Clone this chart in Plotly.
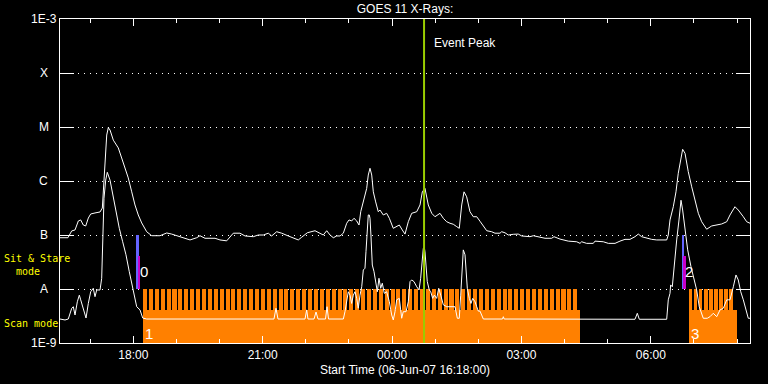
import math
import plotly.graph_objects as go
import pandas as pd

# ---------------- data ----------------
START = "2007-06-06 16:18:00"
END = "2007-06-07 08:18:00"
EVENT_PEAK = "2007-06-07 00:44:30"

# GOES 11 long channel (1-8 A): minutes after start, flux W/m^2
long_min = [0, 11, 16.3, 20.9, 25.5, 28.8, 32.4, 35.8, 39.4, 42.7, 48.7, 55.7, 58.9, 61.2, 62.6, 65.0, 67.2,
            69.6, 74.2, 81.1, 85.8, 90.4, 95.0, 99.8, 104.3, 108.9, 113.7, 120.6, 127.6, 139.1, 148.5, 155.4,
            167.0, 180.9, 190.2, 194.8, 201.7, 215.7, 222.6, 231.9, 241.1, 250.4, 257.4, 268.9, 275.9, 282.9,
            289.8, 294.5, 301.5, 308.4, 317.6, 324.6, 331.5, 336.3, 344.1, 354.8, 361.7, 366.3, 371.1, 375.7,
            380.3, 385.0, 389.6, 394.2, 398.9, 402.1, 405.8, 409.0, 412.8, 416.0, 418.4, 420.6, 424.3, 426.7,
            428.9, 431.3, 433.7, 435.9, 439.2, 442.8, 445.2, 449.8, 454.5, 458.2, 463.7, 468.4, 472.1, 476.2,
            480.0, 484.6, 489.3, 496.3, 500.9, 504.1, 507.8, 512.4, 517.2, 521.7, 528.7, 533.3, 538.0, 542.6,
            547.2, 551.9, 555.5, 558.9, 562.1, 565.8, 570.4, 575.0, 579.8, 584.3, 589.0, 593.7, 600.6, 605.2,
            612.2, 614.5, 619.1, 623.7, 630.7, 637.6, 642.4, 653.9, 658.5, 665.5, 674.8, 684.1, 687.3, 695.7,
            700.3, 707.2, 718.9, 723.5, 725.8, 732.7, 742.0, 744.3, 755.9, 762.9, 772.2, 776.8, 779.1, 786.1,
            793.0, 800.0, 804.6, 809.3, 816.3, 823.2, 830.2, 844.1, 846.3, 848.7, 853.3, 857.0, 860.2, 863.6,
            866.3, 869.6, 874.1, 878.9, 883.5, 888.1, 892.8, 899.7, 906.7, 913.7, 920.6, 927.6, 932.2, 939.1,
            943.7, 950.7, 955.4, 960.0]
long_flux = [8.9e-8, 8.9e-8, 1.19e-7, 1.24e-7, 1.82e-7, 1.90e-7, 1.53e-7, 1.47e-7, 2.06e-7, 2.45e-7, 2.56e-7,
             2.67e-7, 3.16e-7, 9.7e-7, 1.74e-6, 7.1e-6, 9.7e-6, 8.8e-6, 5.7e-6, 4.1e-6, 2.67e-6, 1.82e-6,
             1.14e-6, 6.3e-7, 3.6e-7, 2.35e-7, 1.67e-7, 1.15e-7, 9.7e-8, 9.7e-8, 1.09e-7, 1.04e-7, 9.3e-8,
             8.1e-8, 8.9e-8, 9.7e-8, 8.7e-8, 8.7e-8, 8.1e-8, 7.8e-8, 1.08e-7, 1.08e-7, 9.6e-8, 9.3e-8, 1.0e-7,
             1.0e-7, 1.08e-7, 9.6e-8, 1.15e-7, 1.08e-7, 9.6e-8, 8.7e-8, 8.1e-8, 9.1e-8, 1.10e-7, 1.20e-7,
             1.08e-7, 1.0e-7, 1.20e-7, 1.0e-7, 8.9e-8, 9.6e-8, 9.6e-8, 1.08e-7, 1.65e-7, 1.90e-7, 1.82e-7,
             2.04e-7, 1.82e-7, 1.53e-7, 2.70e-7, 3.6e-7, 5.1e-7, 7.3e-7, 1.29e-6, 1.72e-6, 1.29e-6, 6.3e-7,
             4.1e-7, 2.70e-7, 2.90e-7, 2.35e-7, 2.52e-7, 2.04e-7, 1.33e-7, 1.43e-7, 1.53e-7, 1.24e-7, 1.04e-7,
             1.76e-7, 2.52e-7, 2.70e-7, 3.6e-7, 6.3e-7, 7.3e-7, 3.6e-7, 2.52e-7, 2.18e-7, 2.52e-7, 2.04e-7,
             1.76e-7, 1.65e-7, 1.58e-7, 1.43e-7, 1.33e-7, 3.6e-7, 6.3e-7, 5.1e-7, 2.70e-7, 2.18e-7, 2.18e-7,
             1.8e-7, 1.43e-7, 1.20e-7, 1.15e-7, 1.08e-7, 1.08e-7, 1.15e-7, 1.10e-7, 1.0e-7, 1.03e-7, 1.04e-7,
             9.6e-8, 9.3e-8, 9.7e-8, 9.3e-8, 8.7e-8, 8.7e-8, 9.3e-8, 8.4e-8, 8.1e-8, 7.7e-8, 7.5e-8, 7.0e-8,
             7.5e-8, 7.0e-8, 7.0e-8, 7.7e-8, 7.5e-8, 7.0e-8, 7.0e-8, 7.5e-8, 7.7e-8, 8.3e-8, 8.3e-8, 9.3e-8,
             1.04e-7, 9.3e-8, 8.7e-8, 8.3e-8, 8.1e-8, 8.1e-8, 1.0e-7, 1.90e-7, 3.34e-7, 6.3e-7, 1.39e-6,
             2.45e-6, 3.86e-6, 3.26e-6, 1.49e-6, 7.8e-7, 4.4e-7, 2.52e-7, 1.76e-7, 1.28e-7, 1.47e-7, 1.53e-7,
             1.60e-7, 1.76e-7, 2.35e-7, 3.34e-7, 2.90e-7, 2.18e-7, 1.76e-7, 1.65e-7]

# GOES 11 short channel (0.5-4 A)
short_min = [0, 7.0, 11.5, 16.3, 18.5, 20.9, 24.1, 26.9, 28.8, 31.6, 33.4, 36.2, 39.4, 42.7, 46.3, 48.7, 51.1,
             55.7, 58.0, 59.4, 61.2, 63.6, 65.8, 69.6, 73.3, 77.9, 82.5, 87.2, 91.8, 96.4, 101.1, 104.3, 106.7,
             111.3, 115.1, 120.6, 297.7, 300.5, 303.3, 340.9, 343.2, 345.0, 353.4, 356.2, 359.0, 369.4, 371.5,
             373.6, 394.2, 396.5, 398.9, 401.1, 403.5, 405.8, 408.1, 410.4, 412.8, 415.0, 417.4, 419.8, 422.0,
             424.3, 425.7, 427.5, 428.9, 430.3, 431.3, 432.6, 434.5, 436.9, 439.7, 441.5, 443.8, 446.2, 448.4,
             451.2, 454.5, 458.2, 461.5, 463.7, 466.1, 468.4, 472.1, 475.4, 477.6, 481.4, 484.6, 487.0, 489.3,
             492.5, 496.3, 499.5, 501.8, 503.7, 505.5, 506.8, 507.8, 509.2, 511.0, 513.8, 515.8, 518.5, 520.8,
             524.1, 526.9, 529.7, 533.3, 538.0, 549.6, 552.8, 555.5, 557.5, 559.3, 561.1, 563.5, 564.9, 566.7,
             569.5, 571.8, 574.2, 577.4, 579.8, 582.0, 584.3, 589.0, 615.7, 616.8, 618.0, 800.0, 803.2, 806.0,
             844.1, 846.3, 848.7, 849.6, 851.9, 854.7, 858.0, 861.2, 864.0, 866.3, 869.6, 873.3, 877.9, 882.1,
             885.8, 889.4, 892.8, 895.0, 900.6, 904.3, 908.9, 913.7, 918.3, 922.9, 927.6, 932.2, 936.8, 940.5,
             943.7, 947.1, 950.7, 954.4, 957.6, 960.0]
short_flux = [2.78e-9, 2.67e-9, 2.78e-9, 4.4e-9, 4.7e-9, 3.3e-9, 5.8e-9, 7.7e-9, 6.3e-9, 4.7e-9, 4.1e-9, 2.9e-9,
              5.4e-9, 8.9e-9, 1.03e-8, 7.2e-9, 9.6e-9, 9.6e-9, 1.58e-8, 7.5e-8, 4.8e-7, 1.04e-6, 1.45e-6,
              1.04e-6, 5.5e-7, 2.70e-7, 1.33e-7, 7.5e-8, 4.3e-8, 2.09e-8, 1.03e-8, 7.2e-9, 4.7e-9, 4.1e-9,
              2.9e-9, 2.78e-9, 2.78e-9, 4.4e-9, 2.78e-9, 2.78e-9, 4.1e-9, 2.78e-9, 2.78e-9, 3.75e-9, 2.78e-9,
              2.78e-9, 4.7e-9, 2.78e-9, 2.78e-9, 3.8e-9, 5.8e-9, 8.9e-9, 7.7e-9, 5.4e-9, 7.7e-9, 8.9e-9, 6.7e-9,
              4.4e-9, 7.7e-9, 1.10e-8, 2.25e-8, 2.42e-8, 4.9e-8, 1.0e-7, 2.35e-7, 2.35e-7, 2.04e-7, 1.0e-7,
              2.78e-8, 2.09e-8, 1.37e-8, 8.9e-9, 1.58e-8, 1.03e-8, 1.28e-8, 8.3e-9, 8.9e-9, 5.8e-9, 3.3e-9,
              2.67e-9, 3.8e-9, 6.3e-9, 6.7e-9, 2.87e-9, 3.8e-9, 3.8e-9, 5.8e-9, 1.37e-8, 1.47e-8, 1.37e-8,
              1.10e-8, 9.6e-9, 1.58e-8, 3.2e-8, 5.7e-8, 5.9e-8, 4.9e-8, 2.78e-8, 1.37e-8, 9.6e-9, 8.9e-9,
              6.7e-9, 7.7e-9, 6.7e-9, 1.03e-8, 7.7e-9, 5.1e-9, 4.7e-9, 4.7e-9, 2.87e-9, 2.87e-9, 7.7e-9,
              2.09e-8, 5.3e-8, 4.3e-8, 2.09e-8, 1.03e-8, 6.7e-9, 5.4e-9, 6.7e-9, 5.8e-9, 4.7e-9, 3.9e-9,
              3.9e-9, 2.78e-9, 2.78e-9, 3.07e-9, 2.78e-9, 2.75e-9, 3.55e-9, 2.75e-9, 2.75e-9, 6.3e-9, 8.3e-9,
              1.19e-8, 1.10e-8, 2.99e-8, 8.1e-8, 1.90e-7, 4.4e-7, 2.90e-7, 1.24e-7, 5.3e-8, 2.59e-8, 1.47e-8,
              9.6e-9, 4.7e-9, 3.55e-9, 2.87e-9, 2.87e-9, 3.07e-9, 3.55e-9, 3.07e-9, 4.1e-9, 4.4e-9, 6.3e-9,
              6.3e-9, 1.10e-8, 1.82e-8, 1.47e-8, 8.9e-9, 6.3e-9, 4.1e-9, 2.87e-9, 2.87e-9]

# axis labels
y_tick_vals = [1e-9, 1e-8, 1e-7, 1e-6, 1e-5, 1e-4, 1e-3]
y_tick_text = ["1E-9", "A", "B", "C", "M", "X", "1E-3"]
x_tick_vals = ["2007-06-06 18:00", "2007-06-06 21:00", "2007-06-07 00:00", "2007-06-07 03:00", "2007-06-07 06:00"]
x_tick_text = ["18:00", "21:00", "00:00", "03:00", "06:00"]
x_title = "Start Time (06-Jun-07 16:18:00)"

# EIS observations (minutes after start)
scan_study_labels = ["1", "3"]
scan_study_start = [115.5, 875.0]
scan_study_end = [723.5, 942.0]
scan_raster_start = [115.5, 123.7, 131.9, 140.1, 148.3, 156.5, 164.7, 172.9, 181.1, 189.3, 197.5, 205.7, 213.9,
                     222.1, 230.3, 238.5, 246.7, 254.9, 263.1, 271.3, 279.5, 287.7, 295.9, 304.1, 312.3, 320.5,
                     328.7, 336.9, 345.1, 353.3, 361.5, 369.7, 377.9, 386.1, 394.3, 402.5, 410.7, 418.9, 427.1,
                     435.3, 443.5, 451.7, 459.9, 468.1, 476.3, 484.5, 492.7, 500.9, 509.1, 517.3, 525.5, 533.7,
                     541.9, 550.1, 558.3, 566.5, 574.7, 582.9, 591.1, 599.3, 607.5, 615.7, 623.9, 632.1, 640.3,
                     648.5, 656.7, 664.9, 673.1, 681.3, 689.5, 697.7, 705.9, 714.1,
                     875.0, 882.0, 889.0, 896.0, 903.0, 910.0, 917.0, 924.0, 931.0]
scan_raster_dur = [5.6] * 74 + [4.9] * 9

sns_study_labels = ["0", "2"]
sns_study_start = [108.1, 867.2]
sns_study_end = [111.3, 870.5]
sns_raster_start = [105.7, 865.4]
sns_raster_end = [109.5, 868.6]

# level heights of the observation bars
SCAN_BASE, SCAN_STUDY_TOP, SCAN_RASTER_TOP = 1e-9, 4.08e-9, 1e-8
SNS_BASE, SNS_STUDY_TOP, SNS_RASTER_TOP = 1e-8, 4.08e-8, 1e-7

# ---------------- figure ----------------
t0 = pd.Timestamp(START)


def tm(m):
    return t0 + pd.to_timedelta(m, unit="min")


def bar_trace(starts, ends, base, top, color):
    centers = [tm((s + e) / 2) for s, e in zip(starts, ends)]
    widths = [(e - s) * 60000 for s, e in zip(starts, ends)]
    return go.Bar(x=centers, width=widths, base=[base] * len(starts), y=[top - base] * len(starts),
                  marker=dict(color=color, line=dict(width=0)), showlegend=False, hoverinfo="skip")


ORANGE = "#ff8000"
BLUE = "#6464ff"
MAGENTA = "#c800c8"
GREEN = "#99cc00"
YELLOW = "#ffff00"
FONT = "Liberation Sans"
MONO = "DejaVu Sans Mono"

fig = go.Figure()
scan_raster_end = [s + d for s, d in zip(scan_raster_start, scan_raster_dur)]
fig.add_trace(bar_trace(scan_raster_start, scan_raster_end, SCAN_BASE, SCAN_RASTER_TOP, ORANGE))
fig.add_trace(bar_trace(scan_study_start, scan_study_end, SCAN_BASE, SCAN_STUDY_TOP, ORANGE))
fig.add_trace(bar_trace(sns_raster_start, sns_raster_end, SNS_BASE, SNS_RASTER_TOP, BLUE))
fig.add_trace(bar_trace(sns_study_start, sns_study_end, SNS_BASE, SNS_STUDY_TOP, MAGENTA))

fig.add_trace(go.Scatter(x=[tm(m) for m in long_min], y=long_flux, mode="lines",
                         line=dict(color="white", width=1), showlegend=False, name="1-8 A"))
fig.add_trace(go.Scatter(x=[tm(m) for m in short_min], y=short_flux, mode="lines",
                         line=dict(color="white", width=1), showlegend=False, name="0.5-4 A"))

fig.add_shape(type="line", x0=EVENT_PEAK, x1=EVENT_PEAK, xref="x", yref="paper", y0=0, y1=1,
              line=dict(color=GREEN, width=2))

ann = []
ann.append(dict(x=EVENT_PEAK, y=0.926, xref="x", yref="paper", text="Event Peak", showarrow=False,
                xanchor="left", yanchor="middle", xshift=8, font=dict(color="white", size=12, family=FONT)))
for v, t in zip(y_tick_vals, y_tick_text):
    ann.append(dict(x=-0.0232, y=math.log10(v), xref="paper", yref="y", text=t, showarrow=False,
                    xanchor="center", yanchor="middle", font=dict(color="white", size=12, family=FONT)))
for lab, s in zip(scan_study_labels, scan_study_start):
    ann.append(dict(x=tm(s), y=-8.815, xref="x", yref="y", text=lab, showarrow=False, xanchor="left",
                    yanchor="middle", font=dict(color="white", size=15, family=FONT)))
for lab, s in zip(sns_study_labels, sns_study_start):
    ann.append(dict(x=tm(s), y=-7.685, xref="x", yref="y", text=lab, showarrow=False, xanchor="left",
                    yanchor="middle", font=dict(color="white", size=15, family=FONT)))
ann.append(dict(x=-0.0841, y=-7.555, xref="paper", yref="y", text="Sit & Stare<br>\u00a0\u00a0mode",
                showarrow=False, xanchor="left", yanchor="middle", align="left",
                font=dict(color=YELLOW, size=10, family=MONO)))
ann.append(dict(x=-0.0841, y=-8.639, xref="paper", yref="y", text="Scan mode", showarrow=False,
                xanchor="left", yanchor="middle", font=dict(color=YELLOW, size=10, family=MONO)))
ann.append(dict(x=0.5, y=-0.0818, xref="paper", yref="paper", text=x_title, showarrow=False,
                xanchor="center", yanchor="middle", font=dict(color="white", size=12, family=FONT)))

fig.update_layout(
    width=768, height=384,
    margin=dict(l=60, r=18, t=19, b=41, autoexpand=False),
    paper_bgcolor="black", plot_bgcolor="black",
    barmode="overlay", bargap=0,
    font=dict(family=FONT, size=12, color="white"),
    title=dict(text="GOES 11 X-Rays:", x=0.5, xref="paper", xanchor="center", y=1 - 9 / 384,
               yref="container", yanchor="middle", font=dict(size=12, color="white", family=FONT)),
    annotations=ann,
    xaxis=dict(type="date", range=[START, END], showgrid=False, zeroline=False, automargin=False,
               showline=True, linecolor="white", linewidth=1, mirror="ticks",
               ticks="inside", ticklen=7, tickcolor="white", tickwidth=1,
               tickvals=x_tick_vals, ticktext=x_tick_text, ticklabelstandoff=1,
               tickfont=dict(size=12, color="white", family=FONT),
               minor=dict(ticks="inside", ticklen=4, tickcolor="white", dtick=3600000,
                          tick0="2007-06-06 17:00", showgrid=False)),
    yaxis=dict(type="log", range=[-9, -3], showline=True, linecolor="white", linewidth=1, mirror="ticks",
               ticks="inside", ticklen=14, tickcolor="white", tickwidth=1, automargin=False,
               tickvals=y_tick_vals, showticklabels=False, zeroline=False,
               showgrid=True, gridcolor="white", gridwidth=1, griddash="1px,5px"),
)

fig.write_html("out.html", config={"displayModeBar": False},
               post_script="document.body.style.margin='0';document.body.style.background='black';")
